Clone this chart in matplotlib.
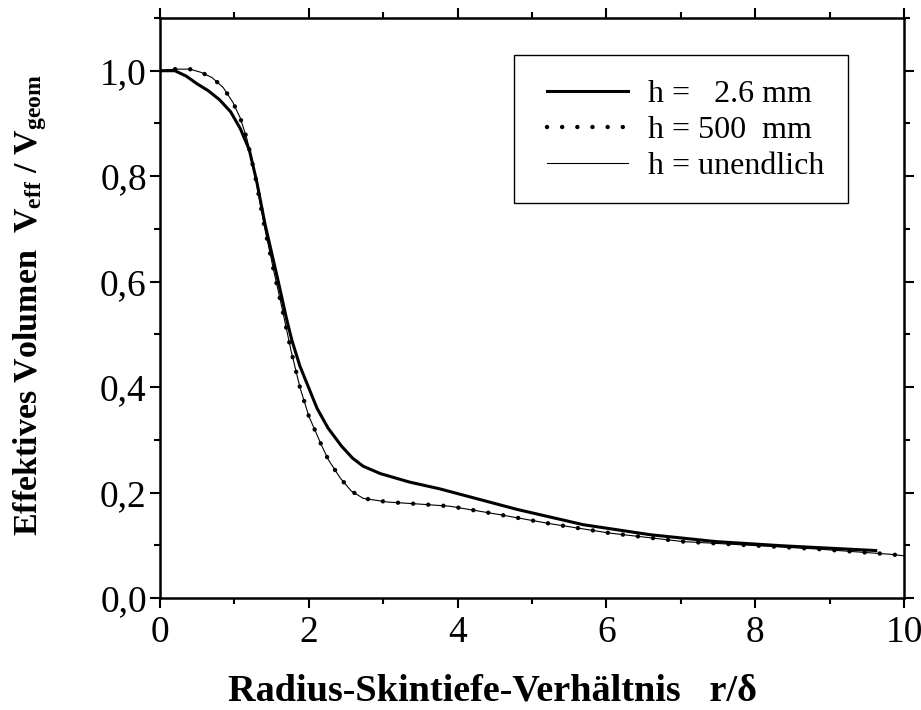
import matplotlib
matplotlib.use('Agg')
from matplotlib import pyplot as plt
from matplotlib.ticker import MultipleLocator, FuncFormatter
from matplotlib.patches import Rectangle

plt.rcParams['font.family'] = ['Liberation Serif', 'DejaVu Serif']
plt.rcParams['mathtext.fontset'] = 'custom'
plt.rcParams['mathtext.rm'] = 'Liberation Serif'
plt.rcParams['mathtext.bf'] = 'Liberation Serif:bold'

# h = 2.6 mm
x_h26 = [0.0, 0.2, 0.35, 0.5, 0.65, 0.8, 0.95, 1.08, 1.2, 1.3, 1.41, 1.59, 1.70, 1.77, 1.88,
         2.11, 2.26, 2.44, 2.59, 2.73, 2.96, 3.35, 3.76, 4.80, 5.69, 6.59, 7.47, 8.37, 9.62]
y_h26 = [1.0, 1.0, 0.99, 0.975, 0.962, 0.945, 0.922, 0.89, 0.85, 0.79, 0.71, 0.60, 0.53, 0.49, 0.44,
         0.36, 0.322, 0.288, 0.265, 0.250, 0.236, 0.220, 0.207, 0.168, 0.139, 0.120, 0.107, 0.099, 0.090]

# h = 500 mm
x_h500 = [0.0, 0.2, 0.4, 0.55, 0.7, 0.85, 0.98, 1.08, 1.17, 1.28, 1.41, 1.53, 1.64, 1.76, 1.88,
          2.0, 2.17, 2.26, 2.42, 2.57, 2.73, 3.06, 3.5, 3.90, 4.57, 5.24, 6.05, 7.03, 7.93, 8.82,
          9.81, 10.0]
y_h500 = [1.0, 1.003, 1.003, 0.997, 0.987, 0.968, 0.94, 0.91, 0.87, 0.80, 0.70, 0.62, 0.55, 0.47, 0.40,
          0.345, 0.29, 0.263, 0.228, 0.203, 0.189, 0.182, 0.178, 0.174, 0.158, 0.141, 0.123, 0.107, 0.100, 0.093,
          0.083, 0.080]

# h = unendlich
x_inf = list(x_h500)
y_inf = list(y_h500)

labels = ['h =   2.6 mm', 'h = 500  mm', 'h = unendlich']

fig = plt.figure(figsize=(9.21, 7.10), dpi=100)
ax = fig.add_axes([160 / 921, 1 - 598 / 710, 744 / 921, 580 / 710])

l1, = ax.plot(x_h26, y_h26, color='black', lw=2.2)
l3, = ax.plot(x_inf, y_inf, color='black', lw=0.8)
l2, = ax.plot(x_h500, y_h500, color='black', lw=3.2, linestyle=(0, (0.01, 3.4)),
              dash_capstyle='round')

ax.set_xlim(0, 10)
ax.set_ylim(0, 1.1)
ax.xaxis.set_major_locator(MultipleLocator(2))
ax.xaxis.set_minor_locator(MultipleLocator(1))
ax.yaxis.set_major_locator(MultipleLocator(0.2))
ax.yaxis.set_minor_locator(MultipleLocator(0.1))
ax.yaxis.set_major_formatter(FuncFormatter(lambda v, p: f'{v:.1f}'.replace('.', ',')))
ax.xaxis.set_major_formatter(FuncFormatter(lambda v, p: f'{v:.0f}'))

ax.tick_params(which='both', direction='out', top=True, right=True, width=1.5,
               labelsize=27)
ax.tick_params(which='major', length=7.5)
ax.tick_params(which='minor', length=4.3)
ax.tick_params(axis='x', which='major', pad=5)
ax.tick_params(axis='y', which='major', pad=2)
for s in ax.spines.values():
    s.set_linewidth(1.8)

# legend box
ax.add_patch(Rectangle((0.476, 0.681), 0.449, 0.255, transform=ax.transAxes,
                       fill=False, edgecolor='black', lw=1.0, zorder=5))
ax.legend([l1, l2, l3], labels, loc='upper left', bbox_to_anchor=(0.520, 0.893),
          frameon=False, fontsize=23, handlelength=2.55, handletextpad=0.63,
          labelspacing=0.2, borderpad=0, borderaxespad=0)

fig.text(30 / 921, 1 - 305 / 710,
         r'Effektives Volumen  $\mathbf{V_{eff}}$ / $\mathbf{V_{geom}}$',
         rotation=90, ha='center', va='center', fontsize=24.5, fontweight='bold')
fig.text(492 / 921, 1 - 691 / 710, 'Radius-Skintiefe-Verhältnis   r/δ',
         ha='center', va='center', fontsize=27.5, fontweight='bold')

fig.savefig('out.png', dpi=100)
